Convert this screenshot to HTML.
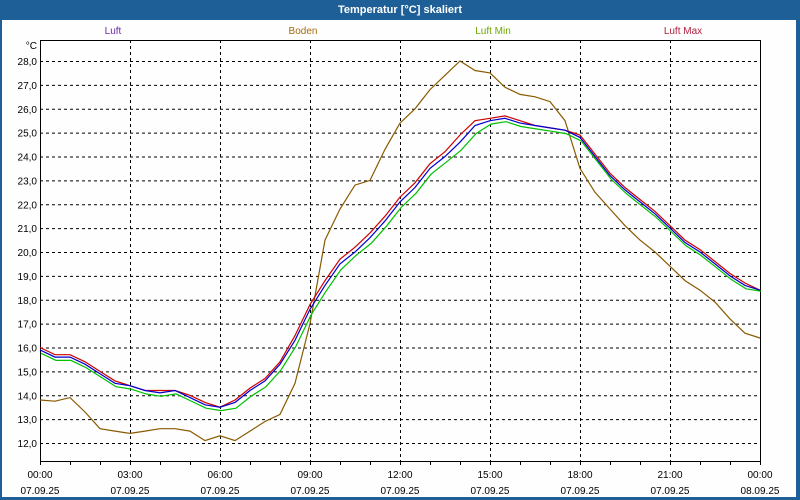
<!DOCTYPE html>
<html><head><meta charset="utf-8"><style>
body{margin:0;width:800px;height:500px;overflow:hidden;background:#1d5f96;font-family:"Liberation Sans","DejaVu Sans",sans-serif}
#frame{position:absolute;left:2px;top:20px;width:794px;height:477px;background:#fdfefd}
#title{position:absolute;left:0;top:0;width:800px;height:20px;line-height:20px;text-align:center;color:#fff;font-weight:bold;font-size:11px}
svg{position:absolute;left:0;top:0}
</style></head><body>
<div id="title">Temperatur [°C] skaliert</div>
<div id="frame"></div>
<svg id="chart" width="800" height="500"></svg>
<script>
const hours=[0,0.5,1,1.5,2,2.5,3,3.5,4,4.5,5,5.5,6,6.5,7,7.5,8,8.5,9,9.5,10,10.5,11,11.5,12,12.5,13,13.5,14,14.5,15,15.5,16,16.5,17,17.5,18,18.5,19,19.5,20,20.5,21,21.5,22,22.5,23,23.5,24];
const luft=[15.9,15.6,15.6,15.3,14.9,14.5,14.4,14.2,14.1,14.2,13.9,13.6,13.5,13.7,14.2,14.6,15.3,16.3,17.6,18.6,19.5,20.0,20.6,21.3,22.1,22.7,23.5,24.0,24.6,25.3,25.5,25.6,25.4,25.3,25.2,25.1,24.8,24.0,23.2,22.6,22.1,21.6,21.0,20.4,20.0,19.5,19.0,18.6,18.4];
const luftMax=[16.0,15.7,15.7,15.4,15.0,14.6,14.4,14.2,14.2,14.2,14.0,13.7,13.5,13.8,14.3,14.7,15.4,16.5,17.8,18.8,19.7,20.2,20.8,21.5,22.3,22.9,23.7,24.2,24.9,25.5,25.6,25.7,25.5,25.3,25.2,25.1,24.9,24.1,23.3,22.7,22.2,21.7,21.1,20.5,20.1,19.6,19.1,18.7,18.4];
const luftMin=[15.8,15.5,15.5,15.2,14.8,14.4,14.3,14.1,14.0,14.1,13.8,13.5,13.4,13.5,14.0,14.4,15.1,16.1,17.4,18.4,19.3,19.9,20.4,21.1,21.9,22.5,23.3,23.8,24.3,25.0,25.4,25.5,25.3,25.2,25.1,25.0,24.7,23.9,23.1,22.5,22.0,21.5,20.9,20.3,19.9,19.4,18.9,18.5,18.4];
const boden=[13.8,13.75,13.9,13.3,12.6,12.5,12.4,12.5,12.6,12.6,12.5,12.1,12.3,12.1,12.5,12.9,13.2,14.5,17.0,20.5,21.8,22.8,23.0,24.3,25.4,26.0,26.8,27.4,28.0,27.6,27.5,26.9,26.6,26.5,26.3,25.5,23.5,22.5,21.8,21.1,20.5,20.0,19.4,18.8,18.4,17.9,17.2,16.6,16.4];
const yTicks=[12,13,14,15,16,17,18,19,20,21,22,23,24,25,26,27,28];
const xTicks=[0,3,6,9,12,15,18,21,24];
const xTimeLabels=["00:00","03:00","06:00","09:00","12:00","15:00","18:00","21:00","00:00"];
const xDateLabels=["07.09.25","07.09.25","07.09.25","07.09.25","07.09.25","07.09.25","07.09.25","07.09.25","08.09.25"];
const legendNames=["Luft","Boden","Luft Min","Luft Max"];

const L=40,R=760,T=40,B=461;
const X=h=>L+h*(R-L)/24;
const Y=v=>443-(v-12)*23.875;
const svg=document.getElementById('chart');
const NS='http://www.w3.org/2000/svg';
function mk(tag,attrs){const e=document.createElementNS(NS,tag);for(const k in attrs)e.setAttribute(k,attrs[k]);svg.appendChild(e);return e;}

// grid
yTicks.forEach(v=>{
  const g=mk('line',{x1:L,x2:R,y1:Y(v)+0.5,y2:Y(v)+0.5,stroke:'#000','stroke-dasharray':'3,3','stroke-width':1});
  
  
  const t=mk('text',{x:37,y:Y(v)+4,'text-anchor':'end','font-size':10,fill:'#000'});
  t.textContent=v.toFixed(1).replace('.',',');
  
  
});
xTicks.forEach((h,i)=>{
  if(h>0&&h<24){
    const g=mk('line',{x1:X(h)+0.5,x2:X(h)+0.5,y1:T,y2:B,stroke:'#000','stroke-dasharray':'3,3','stroke-width':1});
    
    
  }
  const t1=mk('text',{x:X(h),y:478,'text-anchor':'middle','font-size':10,fill:'#000'});
  t1.textContent=xTimeLabels[i];
  
  
  const t2=mk('text',{x:X(h),y:494,'text-anchor':'middle','font-size':10,fill:'#000'});
  t2.textContent=xDateLabels[i];
  
  
});
for(let h=0;h<=24;h++){
  const tk=mk('line',{x1:X(h)+0.5,x2:X(h)+0.5,y1:B,y2:B+4,stroke:'#000'});
  
  
}
const ax=mk('rect',{x:L+0.5,y:T+0.5,width:R-L,height:B-T,fill:'none',stroke:'#000','stroke-width':1});


const unit=mk('text',{x:37,y:49,'text-anchor':'end','font-size':10,fill:'#000'});
unit.textContent='°C';



function series(arr,color,name,dx,dy){
  const pts=arr.map((v,i)=>(X(hours[i])+dx).toFixed(1)+','+(Y(v)+dy).toFixed(1)).join(' ');
  const p=mk('polyline',{points:pts,fill:'none',stroke:color,'stroke-width':1.2});
  
  
}
series(boden,'#8a5a00','series-boden',0,0);
series(luftMin,'#00c000','series-luft-min',1,1);
series(luftMax,'#d00000','series-luft-max',0,0);
series(luft,'#0000d0','series-luft',0,0);

const legColors=['#6a2aa8','#a86a10','#70a800','#b02040'];
const legX=[113,303,493,683];
legendNames.forEach((n,i)=>{
  const t=mk('text',{x:legX[i],y:34,'text-anchor':'middle','font-size':10,fill:legColors[i]});
  t.textContent=n;
  
  
});
</script>
</body></html>
